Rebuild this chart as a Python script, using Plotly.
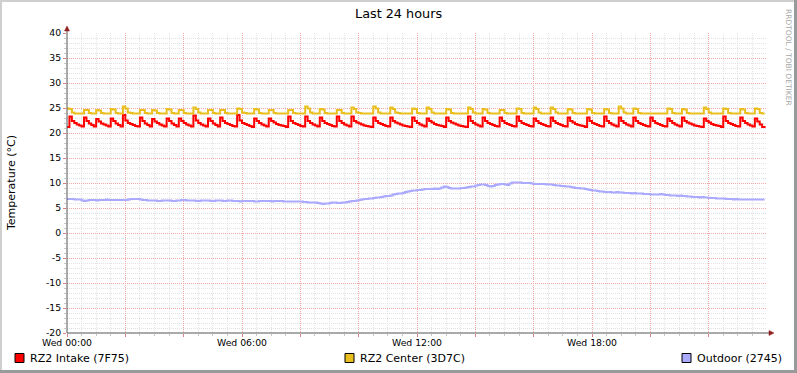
import plotly.graph_objects as go

# ---------------- data (5-minute samples starting Wed 00:00) ----------------
step_minutes = 5

series_names = ["RZ2 Intake (7F75)", "RZ2 Center (3D7C)", "Outdoor (2745)"]
series_colors = ["#FF0000", "#E8BF1F", "#AAAAFF"]

rz2_intake = [
    21.2, 23.3, 22.4, 22.0, 21.7, 21.5, 21.3,
    23.1, 22.4, 21.9, 21.6, 21.3,
    22.8, 22.3, 21.9, 21.7, 21.5, 21.3,
    22.9, 22.4, 21.9, 21.6, 21.3,
    23.6, 22.5, 22.0, 21.8, 21.6, 21.4, 21.3,
    23.1, 22.4, 21.9, 21.6, 21.3,
    22.8, 22.3, 22.0, 21.7, 21.5, 21.3,
    22.9, 22.4, 21.9, 21.6, 21.3,
    22.9, 22.4, 22.0, 21.7, 21.5, 21.3,
    23.5, 22.5, 22.0, 21.7, 21.5, 21.3,
    22.9, 22.4, 21.9, 21.6, 21.3,
    23.1, 22.4, 22.0, 21.8, 21.6, 21.4, 21.3,
    23.6, 22.5, 22.0, 21.8, 21.6, 21.4, 21.2,
    22.9, 22.4, 22.0, 21.7, 21.5, 21.3,
    22.9, 22.4, 22.1, 21.8, 21.6, 21.5, 21.4, 21.2,
    23.3, 22.4, 22.0, 21.8, 21.6, 21.4, 21.3,
    23.3, 22.4, 22.0, 21.7, 21.5, 21.3,
    23.1, 22.4, 22.0, 21.8, 21.6, 21.4, 21.3,
    23.3, 22.4, 22.0, 21.7, 21.5, 21.3,
    23.3, 22.4, 22.1, 21.9, 21.7, 21.5, 21.4, 21.3, 21.2,
    23.1, 22.4, 22.0, 21.8, 21.6, 21.4, 21.3,
    23.1, 22.4, 22.1, 21.9, 21.7, 21.5, 21.4, 21.3, 21.2,
    23.1, 22.4, 22.0, 21.7, 21.5, 21.3,
    22.9, 22.4, 22.1, 21.8, 21.6, 21.5, 21.4, 21.2,
    23.1, 22.4, 22.1, 21.9, 21.7, 21.5, 21.4, 21.3, 21.2,
    23.3, 22.4, 22.0, 21.7, 21.5, 21.3,
    23.1, 22.4, 22.0, 21.8, 21.6, 21.4, 21.3,
    23.1, 22.4, 22.0, 21.8, 21.6, 21.4, 21.3,
    23.3, 22.4, 22.0, 21.8, 21.6, 21.4, 21.3,
    22.9, 22.4, 22.0, 21.8, 21.6, 21.4, 21.3,
    23.1, 22.4, 22.0, 21.8, 21.6, 21.4, 21.3,
    23.1, 22.4, 22.1, 21.8, 21.6, 21.5, 21.4, 21.2,
    23.1, 22.4, 22.0, 21.8, 21.6, 21.4, 21.3,
    23.3, 22.4, 22.0, 21.7, 21.5, 21.3,
    23.1, 22.4, 22.0, 21.7, 21.5, 21.3,
    23.1, 22.4, 22.0, 21.8, 21.6, 21.4, 21.3,
    23.1, 22.4, 22.0, 21.8, 21.6, 21.4, 21.3,
    22.9, 22.4, 22.0, 21.7, 21.5, 21.3,
    23.1, 22.4, 22.1, 21.9, 21.7, 21.5, 21.4, 21.3, 21.2,
    22.9, 22.4, 22.1, 21.8, 21.6, 21.5, 21.4, 21.2,
    23.3, 22.4, 22.0, 21.8, 21.6, 21.4, 21.3,
    23.1, 22.4, 22.0, 21.7, 21.5, 21.3,
    22.9, 22.3, 21.7, 21.2, 21.0,
]

rz2_center = [
    24.9, 24.8, 24.1, 23.9, 23.9, 23.9, 23.9,
    24.6, 24.6, 24.0, 23.9, 23.9,
    24.6, 24.5, 24.0, 23.9, 23.9, 23.9,
    24.8, 24.7, 24.0, 23.9, 23.9,
    25.3, 24.9, 24.1, 24.0, 23.9, 23.9, 23.9,
    24.6, 24.6, 24.0, 23.9, 23.9,
    24.6, 24.5, 24.0, 23.9, 23.9, 23.9,
    24.8, 24.7, 24.0, 23.9, 23.9,
    24.6, 24.6, 24.0, 23.9, 23.9, 23.9,
    25.1, 24.8, 24.1, 23.9, 23.9, 23.9,
    24.6, 24.6, 24.0, 23.9, 23.9,
    24.6, 24.6, 24.0, 23.9, 23.9, 23.9, 23.9,
    24.9, 24.8, 24.1, 24.0, 23.9, 23.9, 23.9,
    24.8, 24.7, 24.0, 23.9, 23.9, 23.9,
    24.6, 24.6, 24.0, 23.9, 23.9, 23.9, 23.9, 23.9,
    24.6, 24.6, 24.0, 23.9, 23.9, 23.9, 23.9,
    25.3, 24.9, 24.1, 23.9, 23.9, 23.9,
    24.8, 24.7, 24.0, 23.9, 23.9, 23.9, 23.9,
    24.6, 24.6, 24.0, 23.9, 23.9, 23.9,
    25.1, 24.8, 24.1, 24.0, 23.9, 23.9, 23.9, 23.9, 23.9,
    25.3, 24.9, 24.1, 23.9, 23.9, 23.9, 23.9,
    25.1, 24.8, 24.1, 24.0, 23.9, 23.9, 23.9, 23.9, 23.9,
    24.9, 24.8, 24.0, 23.9, 23.9, 23.9,
    25.1, 24.8, 24.1, 23.9, 23.9, 23.9, 23.9, 23.9,
    24.8, 24.7, 24.0, 23.9, 23.9, 23.9, 23.9, 23.9, 23.9,
    25.1, 24.8, 24.1, 23.9, 23.9, 23.9,
    24.8, 24.7, 24.0, 23.9, 23.9, 23.9, 23.9,
    24.6, 24.6, 24.0, 23.9, 23.9, 23.9, 23.9,
    24.9, 24.8, 24.0, 23.9, 23.9, 23.9, 23.9,
    25.1, 24.8, 24.1, 23.9, 23.9, 23.9, 23.9,
    25.1, 24.8, 24.1, 23.9, 23.9, 23.9, 23.9,
    24.8, 24.7, 24.0, 23.9, 23.9, 23.9, 23.9, 23.9,
    24.8, 24.7, 24.0, 23.9, 23.9, 23.9, 23.9,
    24.8, 24.7, 24.0, 23.9, 23.9, 23.9,
    25.3, 24.9, 24.1, 23.9, 23.9, 23.9,
    24.9, 24.8, 24.0, 23.9, 23.9, 23.9, 23.9,
    23.9, 23.9, 23.9, 23.9, 23.9, 23.9, 23.9,
    24.9, 24.8, 24.0, 23.9, 23.9, 23.9,
    24.8, 24.7, 24.0, 23.9, 23.9, 23.9, 23.9, 23.9, 23.9,
    25.1, 24.8, 24.1, 23.9, 23.9, 23.9, 23.9, 23.9,
    24.9, 24.8, 24.0, 23.9, 23.9, 23.9, 23.9,
    24.8, 24.7, 24.0, 23.9, 23.9, 23.9,
    24.9, 24.8, 24.0, 23.9, 23.9,
]

outdoor = [
    6.8, 6.8, 6.8, 6.7, 6.7, 6.7,
    6.5, 6.4, 6.5,
    6.6, 6.6, 6.6, 6.5, 6.6, 6.6, 6.6, 6.7, 6.6, 6.6, 6.6, 6.6, 6.6, 6.6, 6.6, 6.6,
    6.7, 6.8, 6.8, 6.8, 6.8, 6.7,
    6.6, 6.6, 6.5, 6.5,
    6.5, 6.5, 6.4, 6.4, 6.5, 6.5, 6.5, 6.5, 6.4, 6.4,
    6.5, 6.5, 6.6, 6.6, 6.5, 6.5, 6.5, 6.5, 6.4, 6.4,
    6.5, 6.5, 6.5, 6.5, 6.4, 6.4, 6.5, 6.5, 6.5, 6.4,
    6.4, 6.5, 6.5, 6.4,
    6.4, 6.4, 6.3, 6.4, 6.4, 6.4, 6.4, 6.4, 6.3, 6.3,
    6.4, 6.4, 6.4, 6.4, 6.4, 6.3, 6.4, 6.4, 6.4, 6.4,
    6.3, 6.3, 6.3, 6.3, 6.3, 6.3, 6.3, 6.3,
    6.2, 6.2, 6.1, 6.1, 6.1, 6.1, 6.0,
    5.9, 5.8, 5.9, 5.9,
    6.0, 6.1, 6.1, 6.0, 6.0, 6.1, 6.1, 6.2,
    6.3, 6.4, 6.4, 6.5,
    6.6, 6.7, 6.8, 6.8, 6.9, 6.9,
    7.0, 7.1, 7.1, 7.2,
    7.3, 7.4, 7.4, 7.5,
    7.7, 7.8, 7.9, 7.9, 8.0,
    8.2, 8.3, 8.4, 8.5, 8.5, 8.6, 8.6,
    8.7, 8.8, 8.8, 8.8, 8.8, 8.9, 8.8, 8.9,
    9.1, 9.3, 9.2,
    9.0, 8.9, 8.9, 8.9, 8.9, 9.0, 9.0, 9.1,
    9.2, 9.3, 9.3,
    9.5, 9.6, 9.7, 9.7, 9.6,
    9.4, 9.3, 9.4,
    9.6, 9.7, 9.8, 9.8, 9.7, 9.6,
    9.9, 10.1, 10.1, 10.1, 10.1, 10.0, 10.0, 10.0, 10.0,
    9.9, 9.8, 9.8, 9.8, 9.8, 9.8, 9.7, 9.7, 9.7,
    9.6, 9.5, 9.5, 9.4, 9.4, 9.3, 9.3, 9.2,
    9.1, 9.0, 9.0, 8.9, 8.9, 8.8,
    8.7, 8.6, 8.5, 8.5, 8.4,
    8.3, 8.3, 8.2, 8.2, 8.2, 8.1, 8.1, 8.2, 8.1, 8.1, 8.0,
    8.0, 8.0, 7.9, 8.0, 7.9, 7.9, 7.9, 7.8,
    7.8, 7.8, 7.7, 7.7, 7.7, 7.7, 7.8, 7.7, 7.6, 7.6,
    7.5, 7.5, 7.5, 7.4, 7.5, 7.4, 7.4, 7.3,
    7.3, 7.2, 7.2, 7.2, 7.1, 7.2, 7.1, 7.1, 7.0,
    7.0, 7.0, 6.9, 6.9, 6.9, 6.9, 6.8, 6.8,
    6.8, 6.7, 6.8, 6.7, 6.7, 6.7, 6.7, 6.7, 6.7, 6.7, 6.7, 6.7, 6.7, 6.7, 6.7,
]

x_tick_hours = [0, 2, 4, 6, 8, 10, 12, 14, 16, 18, 20, 22]
x_tick_labels = ["Wed 00:00", "", "", "Wed 06:00", "", "", "Wed 12:00", "", "", "Wed 18:00", "", ""]
y_ticks = [-20, -15, -10, -5, 0, 5, 10, 15, 20, 25, 30, 35, 40]

title_text = "Last 24 hours"
y_title = "Temperature (°C)"
watermark = "RRDTOOL / TOBI OETIKER"

# ---------------- figure ----------------
W, H = 797, 373
L, R, T, B = 67, 30, 33, 40
PW, PH = W - L - R, H - T - B
FONT = "DejaVu Sans"


def px(x):
    return (x - L) / PW


def py(y):
    return (H - B - y) / PH


# minor grid positions that do not coincide with a major grid line
x_minor = [h / 2 for h in range(0, 48) if (h / 2) % 2 != 0]
y_minor = [v for v in range(-20, 41) if v % 5 != 0]

fig = go.Figure()
for name, vals, col in zip(series_names, [rz2_intake, rz2_center, outdoor], series_colors):
    hours = [i * step_minutes / 60 for i in range(len(vals))]
    fig.add_trace(go.Scatter(x=hours, y=vals, mode="lines", name=name,
                             line=dict(color=col, width=2, shape="hv"),
                             showlegend=False, hoverinfo="skip"))

axis_common = dict(
    showline=False, zeroline=False, showgrid=True,
    gridcolor="#F3A8A8", griddash="1px,1px", gridwidth=1,
    ticks="outside", ticklen=3, tickcolor="#E08080",
    tickfont=dict(family=FONT, size=9.3, color="#000000"),
)

fig.update_xaxes(
    range=[0, 24], tickmode="array", tickvals=x_tick_hours, ticktext=x_tick_labels,
    ticklabelstandoff=-2,
    minor=dict(tickmode="array", tickvals=x_minor, showgrid=True, gridcolor="#E2E2E2",
               griddash="1px,1px", ticks="outside", ticklen=2, tickcolor="#C8C8C8"),
    **axis_common,
)
fig.update_yaxes(
    range=[-20, 40], tickmode="array", tickvals=y_ticks,
    ticktext=[str(v) for v in y_ticks],
    minor=dict(tickmode="array", tickvals=y_minor, showgrid=True, gridcolor="#E2E2E2",
               griddash="1px,1px", ticks="outside", ticklen=2, tickcolor="#C8C8C8"),
    **axis_common,
)

shapes = []
axis_col = "#555555"
arrow_col = "#902020"
# axis lines
shapes.append(dict(type="line", xref="paper", yref="paper", x0=px(67), x1=px(770), y0=0, y1=0,
                   line=dict(color=axis_col, width=1)))
shapes.append(dict(type="line", xref="paper", yref="paper", x0=0, x1=0, y0=py(333), y1=py(30),
                   line=dict(color=axis_col, width=1)))
# arrow heads
shapes.append(dict(type="path", xref="paper", yref="paper",
                   path=f"M {px(769)} {py(330.5)} L {px(774)} {py(333)} L {px(769)} {py(335.5)} Z",
                   fillcolor=arrow_col, line=dict(color=arrow_col, width=0.5)))
shapes.append(dict(type="path", xref="paper", yref="paper",
                   path=f"M {px(64.5)} {py(31)} L {px(67)} {py(26)} L {px(69.5)} {py(31)} Z",
                   fillcolor=arrow_col, line=dict(color=arrow_col, width=0.5)))
# frame borders (light top/left, dark bottom/right)
shapes.append(dict(type="rect", xref="paper", yref="paper", x0=px(0), x1=px(W), y0=py(0), y1=py(2),
                   fillcolor="#CFCFCF", line=dict(width=0)))
shapes.append(dict(type="rect", xref="paper", yref="paper", x0=px(0), x1=px(2), y0=py(0), y1=py(H),
                   fillcolor="#CFCFCF", line=dict(width=0)))
shapes.append(dict(type="rect", xref="paper", yref="paper", x0=px(0), x1=px(W), y0=py(H - 3), y1=py(H),
                   fillcolor="#9A9A9A", line=dict(width=0)))
shapes.append(dict(type="rect", xref="paper", yref="paper", x0=px(W - 3), x1=px(W), y0=py(0), y1=py(H),
                   fillcolor="#9A9A9A", line=dict(width=0)))

annotations = []
annotations.append(dict(text=title_text, xref="paper", yref="paper", x=px(398.5), y=py(13),
                        xanchor="center", yanchor="middle", showarrow=False,
                        font=dict(family=FONT, size=12.8, color="#000000")))
annotations.append(dict(text=y_title, xref="paper", yref="paper", x=px(11), y=py(183),
                        xanchor="center", yanchor="middle", showarrow=False, textangle=-90,
                        font=dict(family=FONT, size=11, color="#000000")))
annotations.append(dict(text=watermark, xref="paper", yref="paper", x=px(788), y=py(57),
                        xanchor="center", yanchor="middle", showarrow=False, textangle=90,
                        font=dict(family=FONT, size=7.5, color="#A8A8A8")))

legend_x = [15, 345, 682]
for lx, name, col in zip(legend_x, series_names, series_colors):
    shapes.append(dict(type="rect", xref="paper", yref="paper",
                       x0=px(lx), x1=px(lx + 9), y0=py(362.5), y1=py(353.5),
                       fillcolor=col, line=dict(color="#000000", width=1)))
    annotations.append(dict(text=name, xref="paper", yref="paper", x=px(lx + 13), y=py(358),
                            xanchor="left", yanchor="middle", showarrow=False,
                            font=dict(family=FONT, size=11, color="#000000")))

fig.update_layout(
    width=W, height=H,
    margin=dict(l=L, r=R, t=T, b=B, pad=0, autoexpand=False),
    paper_bgcolor="#FFFFFF", plot_bgcolor="#FFFFFF",
    showlegend=False,
    shapes=shapes, annotations=annotations,
    font=dict(family=FONT),
)

fig.write_html("out.html", config={"displayModeBar": False},
               post_script="document.body.style.margin='0px';document.body.style.padding='0px';")
